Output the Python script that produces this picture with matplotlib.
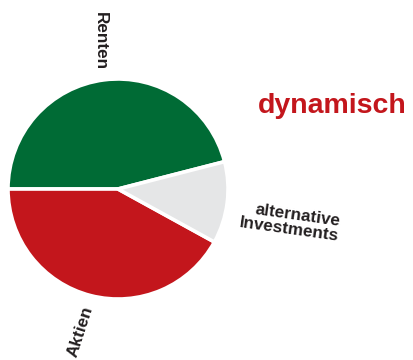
import matplotlib
matplotlib.use('Agg')
import matplotlib.pyplot as plt

plt.rcParams['font.family'] = ['Liberation Sans', 'DejaVu Sans']

# allocation shares (percent), counterclockwise starting at the green slice
categories = ['Renten', 'Aktien', 'alternative\nInvestments']
shares = [46, 42, 12]
colors = ['#006B35', '#C3161C', '#E5E6E7']
explode = [0.02, 0.02, 0.045]
title = 'dynamisch'

W, H = 413, 360
fig = plt.figure(figsize=(W / 100, H / 100), dpi=100)
ax = fig.add_axes([0, 0, 1, 1])

startangle = 180 - shares[0] / sum(shares) * 360
ax.pie(shares, colors=colors, explode=explode, startangle=startangle,
       counterclock=True, center=(118, H - 189), radius=110,
       wedgeprops=dict(edgecolor='white', linewidth=2.6))

ax.set_xlim(0, W)
ax.set_ylim(0, H)
ax.set_aspect('equal')
ax.axis('off')

# labels (pixel positions, y measured from top)
lab = dict(fontsize=12.3, fontweight='bold', color='#231F20',
           ha='center', va='center')
ax.text(100, H - 41, categories[0], rotation=-90, **lab)
ax.text(80, H - 332, categories[1], rotation=72, **lab)
ax.text(290, H - 222, categories[2], rotation=-8, multialignment='right',
        linespacing=0.95, **lab)

ax.text(332, H - 106, title, fontsize=20.5, fontweight='bold',
        color='#C3161C', ha='center', va='center')

fig.savefig('out.png', dpi=100)
